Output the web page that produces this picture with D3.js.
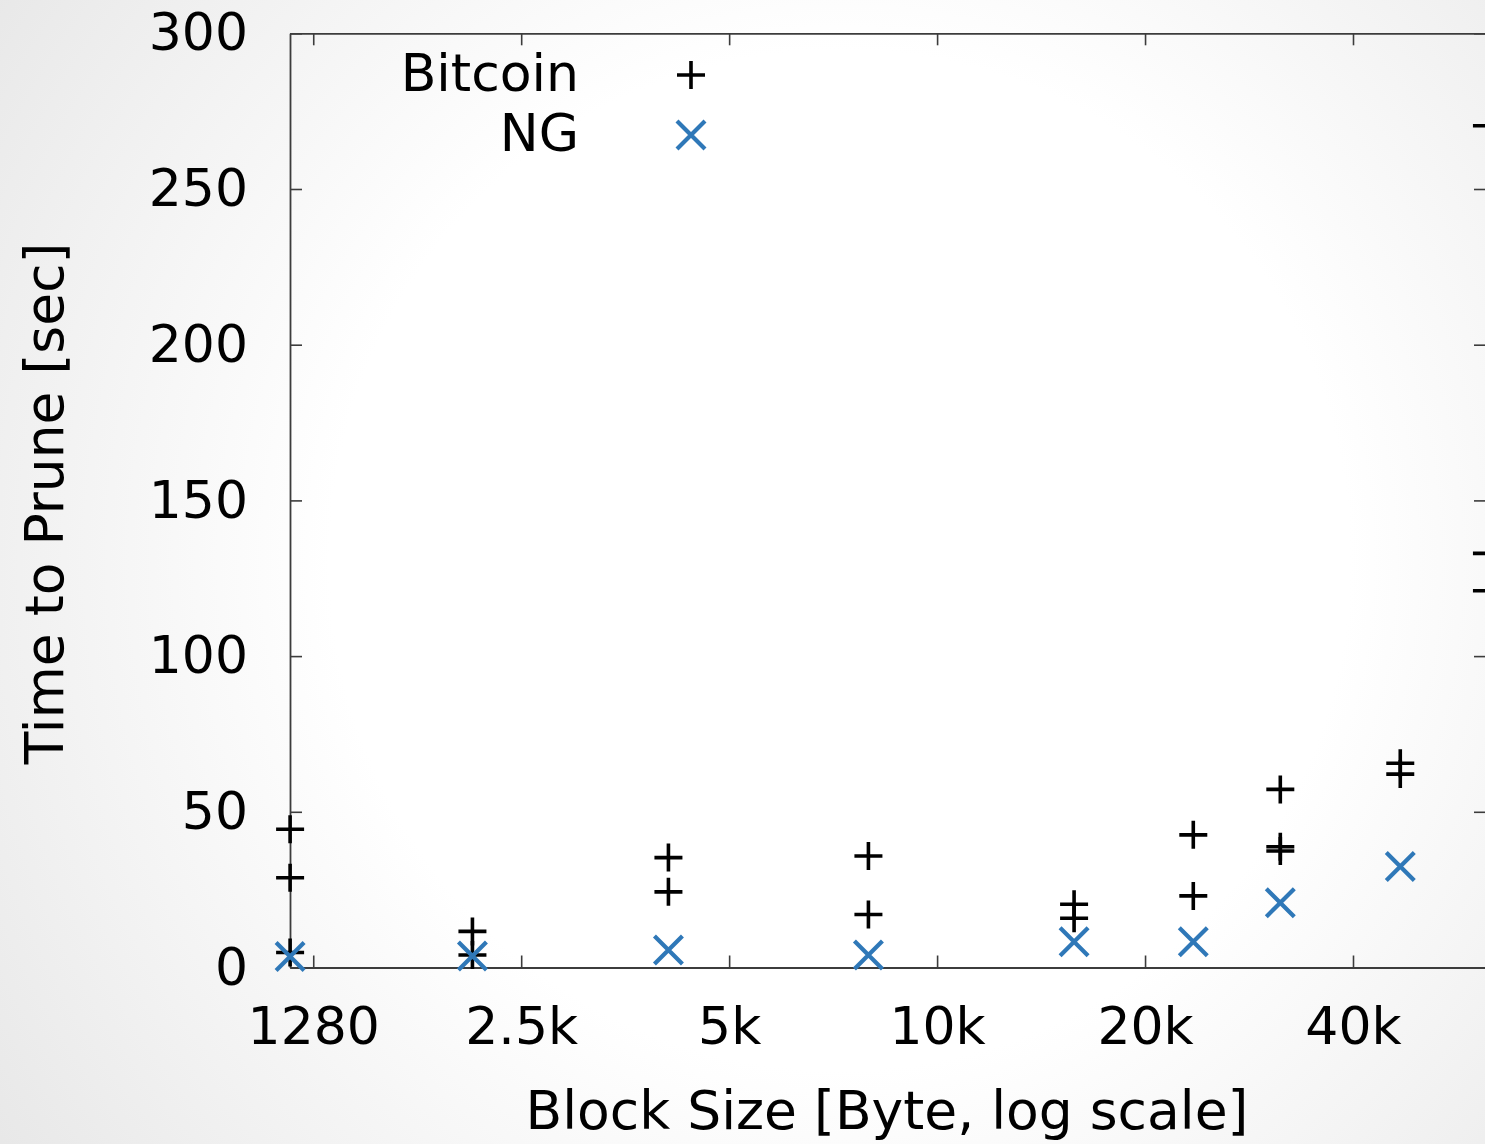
<!DOCTYPE html>
<html>
<head>
<meta charset="utf-8">
<script src="https://cdn.jsdelivr.net/npm/d3@7"></script>
<style>
  html, body { margin: 0; padding: 0; overflow: hidden; }
  svg { display: block; }
  text { font-family: "DejaVu Sans", Verdana, sans-serif; fill: #000; }
</style>
</head>
<body>
<svg id="chart" width="1485" height="1144"></svg>
<script>
// Block sizes (bytes) at which pruning was measured
const blockSizes = [1185, 2176, 4182, 8145, 16166, 24053, 32146, 47950, 64010];
// Bitcoin: several runs per block size (seconds)
const bitcoinTimes = [
  [44.4, 28.8, 4.8],
  [11.6, 4.0],
  [35.3, 24.3],
  [35.8, 17.0],
  [20.3, 15.8],
  [42.6, 23.0],
  [57.2, 38.8, 37.4],
  [65.6, 62.1],
  [270.3, 133.0, 121.0]
];
// NG: one run per block size (seconds), none at the largest size
const ngTimes = [3.5, 3.7, 5.6, 4.0, 8.3, 8.3, 20.8, 32.4, null];

const xTickValues = [1280, 2560, 5120, 10240, 20480, 40960];
const xTickLabels = ["1280", "2.5k", "5k", "10k", "20k", "40k"];
const yTickValues = [0, 50, 100, 150, 200, 250, 300];
const seriesNames = ["Bitcoin", "NG"];

const W = 1485, H = 1144;
const plot = { left: 290, right: 1486, top: 33.3, bottom: 967.5 };
const axisColor = "#3c3c3c";
const ngColor = "#2f78b8";

const svg = d3.select("#chart");

// soft slide-style background
const defs = svg.append("defs");
const grad = defs.append("radialGradient")
  .attr("id", "bg").attr("gradientUnits", "userSpaceOnUse")
  .attr("cx", 840).attr("cy", 560).attr("r", 1020);
grad.append("stop").attr("offset", "0.5").attr("stop-color", "#ffffff");
grad.append("stop").attr("offset", "1").attr("stop-color", "#e8e8e8");
svg.append("rect").attr("width", W).attr("height", H).attr("fill", "url(#bg)");

const x = d3.scaleLog().domain([1184.6, 63810]).range([plot.left, plot.right]);
const y = d3.scaleLinear().domain([0, 300]).range([plot.bottom, plot.top]);

const tickLen = 12;
const labelFmt = d => xTickLabels[xTickValues.indexOf(d)];

function styleAxis(g) {
  g.select(".domain").attr("stroke", axisColor).attr("stroke-width", 1.8);
  g.selectAll(".tick line").attr("stroke", axisColor).attr("stroke-width", 1.6);
  g.selectAll(".tick text").attr("font-size", 52).attr("fill", "#000")
    .attr("font-family", "DejaVu Sans, sans-serif");
}

// bottom axis with labels, ticks pointing inward
svg.append("g").attr("transform", `translate(0,${plot.bottom})`)
  .call(d3.axisBottom(x).tickValues(xTickValues).tickFormat(labelFmt)
    .tickSizeInner(-tickLen).tickSizeOuter(0).tickPadding(40))
  .call(styleAxis);

// top mirror axis
svg.append("g").attr("transform", `translate(0,${plot.top})`)
  .call(d3.axisTop(x).tickValues(xTickValues).tickFormat("")
    .tickSizeInner(-tickLen).tickSizeOuter(0))
  .call(styleAxis);

// left axis with labels
svg.append("g").attr("transform", `translate(${plot.left},0)`)
  .call(d3.axisLeft(y).tickValues(yTickValues).tickFormat(d3.format("d"))
    .tickSizeInner(-tickLen).tickSizeOuter(0).tickPadding(42))
  .call(styleAxis);

// right mirror axis
svg.append("g").attr("transform", `translate(${plot.right},0)`)
  .call(d3.axisRight(y).tickValues(yTickValues).tickFormat("")
    .tickSizeInner(-tickLen).tickSizeOuter(0))
  .call(styleAxis);

// axis titles
svg.append("text")
  .attr("x", (plot.left + plot.right) / 2 - 1).attr("y", 1129)
  .attr("text-anchor", "middle").attr("font-size", 53.5)
  .text("Block Size [Byte, log scale]");

svg.append("text")
  .attr("transform", `translate(63,${(plot.top + plot.bottom) / 2 + 3}) rotate(-90)`)
  .attr("text-anchor", "middle").attr("font-size", 53.5)
  .text("Time to Prune [sec]");

// point markers
const half = 14;
const plusPath = `M${-half},0H${half}M0,${-half}V${half}`;
const crossPath = `M${-half},${-half}L${half},${half}M${-half},${half}L${half},${-half}`;
const plusWidth = 3.6, crossWidth = 4.2;

const bitcoinPts = blockSizes.flatMap((s, i) => bitcoinTimes[i].map(t => ({ s, t })));
const ngPts = blockSizes.map((s, i) => ({ s, t: ngTimes[i] })).filter(d => d.t != null);

svg.append("g").selectAll("path").data(bitcoinPts).join("path")
  .attr("transform", d => `translate(${x(d.s)},${y(d.t)})`)
  .attr("d", plusPath).attr("stroke", "#000").attr("stroke-width", plusWidth).attr("fill", "none");

svg.append("g").selectAll("path").data(ngPts).join("path")
  .attr("transform", d => `translate(${x(d.s)},${y(d.t)})`)
  .attr("d", crossPath)
  .attr("stroke", ngColor).attr("stroke-width", crossWidth).attr("fill", "none");

// key
const legend = svg.append("g");
const legendRows = [
  { name: seriesNames[0], path: plusPath, color: "#000", sw: plusWidth, cy: 75 },
  { name: seriesNames[1], path: crossPath, color: ngColor, sw: crossWidth, cy: 135 }
];
legend.selectAll("text").data(legendRows).join("text")
  .attr("x", 579).attr("y", d => d.cy + 16).attr("text-anchor", "end")
  .attr("font-size", 52).text(d => d.name);
legend.selectAll("path").data(legendRows).join("path")
  .attr("transform", d => `translate(691,${d.cy})`)
  .attr("d", d => d.path).attr("stroke", d => d.color)
  .attr("stroke-width", d => d.sw).attr("fill", "none");
</script>
</body>
</html>
